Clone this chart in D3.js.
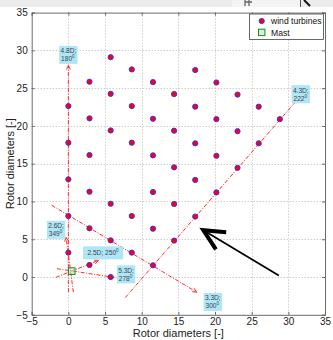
<!DOCTYPE html>
<html>
<head>
<meta charset="utf-8">
<script src="https://cdn.jsdelivr.net/npm/d3@7"></script>
<style>
  html, body { margin: 0; padding: 0; background: #fff; }
  svg { display: block; font-family: "Liberation Sans", Arial, sans-serif; }
</style>
</head>
<body>
<svg id="chart" width="333" height="340"></svg>
<script>
// Wind farm layout in rotor diameters
const turbineX = [
  0, 0, 0, 0, 0,
  2.88, 2.88, 2.88, 2.88, 2.88, 2.88,
  5.77, 5.77, 5.77, 5.77, 5.77, 5.77,
  8.65, 8.65, 8.65, 8.65, 8.65,
  11.54, 11.54, 11.54, 11.54, 11.54, 11.54,
  14.42, 14.42, 14.42, 14.42, 14.42,
  17.3, 17.3, 17.3, 17.3, 17.3,
  20.19, 20.19, 20.19, 20.19,
  23.07, 23.07, 23.07,
  25.96, 25.96,
  28.84
];
const turbineY = [
  3.23, 8.08, 12.93, 17.78, 22.63,
  1.6, 6.45, 11.3, 16.15, 21.0, 25.85,
  0, 4.85, 9.7, 19.4, 24.25, 29.1,
  3.23, 8.08, 17.78, 22.63, 27.48,
  1.55, 6.4, 11.25, 16.1, 20.95, 25.8,
  4.82, 9.67, 14.52, 19.37, 24.22,
  8.0, 12.85, 17.7, 22.55, 27.4,
  11.2, 16.05, 20.9, 25.75,
  14.45, 19.3, 24.15,
  17.7, 22.55,
  20.9
];

// Met mast
const mastX = [0.46];
const mastY = [0.78];

// Axis ticks
const xTicks = [-5, 0, 5, 10, 15, 20, 25, 30, 35];
const yTicks = [-5, 0, 5, 10, 15, 20, 25, 30, 35];

// Sight lines: start and end points (end carries the arrow head)
const lineX1 = [0, 0.68, -1.7, -1.55, -2.27, 7.75];
const lineY1 = [-2.0, -2.0, -0.05, 1.1, 9.5, -2.73];
const lineX2 = [0, -0.31, 4.1, 6.3, 17.5, 30.9];
const lineY2 = [28.0, 5.25, 2.2, -0.05, -2.0, 23.1];
const lineArrow = [true, true, true, false, true, false];

// Annotation labels: spacing and direction
const labelSpacing = ["4.8D;", "2.6D;", "2.5D;", "5.3D;", "3.3D;", "4.3D;"];
const labelAngle = ["180", "349", "250", "278", "300", "222"];
const labelX = [0, -1.68, 4.73, 7.87, 19.7, 31.7];
const labelY = [29.4, 6.25, 3.2, 0.36, -3.3, 24.2];
const labelOneLine = [false, false, true, false, false, false];

// Wind arrow: tail and tip
const windArrowX = [28.7, 18.4];
const windArrowY = [0.2, 6.2];

const legendLabels = ["wind turbines", "Mast"];

const svg = d3.select("#chart");
const W = 333, H = 340;
const plotLeft = 31.7, plotRight = 325, plotTop = 12.6, plotBottom = 314.8;

// window strip at the top
const strip = svg.append("g");
strip.append("rect").attr("x", 0).attr("y", 0).attr("width", W).attr("height", 7).attr("fill", "#ececec");
strip.append("rect").attr("x", 232).attr("y", 0).attr("width", 68).attr("height", 7).attr("fill", "#f4f4f4");
strip.append("line").attr("x1", 300.5).attr("x2", 300.5).attr("y1", 0).attr("y2", 7).attr("stroke", "#555");
strip.append("path").attr("d", "M245,0 V6 M245,2 H252 M249,0 V6").attr("stroke", "#666").attr("stroke-width", 1.3).attr("fill", "none");
strip.append("path").attr("d", "M304,0 L310,6").attr("stroke", "#111").attr("stroke-width", 2).attr("fill", "none");

const x = d3.scaleLinear().domain([-5, 35]).range([plotLeft, plotRight]);
const y = d3.scaleLinear().domain([-5, 35]).range([plotBottom, plotTop]);

// plot background
svg.append("rect").attr("x", plotLeft).attr("y", plotTop).attr("width", plotRight - plotLeft).attr("height", plotBottom - plotTop).attr("fill", "#fff");

// dotted grid
const grid = svg.append("g").attr("stroke", "#b8b8b8").attr("stroke-width", 1).attr("stroke-dasharray", "1,2");
grid.selectAll(".gx").data(xTicks.slice(1, -1)).join("line").attr("class", "gx")
  .attr("x1", d => Math.round(x(d)) + 0.5).attr("x2", d => Math.round(x(d)) + 0.5)
  .attr("y1", plotTop).attr("y2", plotBottom);
grid.selectAll(".gy").data(yTicks.slice(1, -1)).join("line").attr("class", "gy")
  .attr("y1", d => Math.round(y(d)) + 0.5).attr("y2", d => Math.round(y(d)) + 0.5)
  .attr("x1", plotLeft).attr("x2", plotRight);

// axes with inward ticks
const axisColor = "#6a6a6a";
const xAxis = svg.append("g").attr("transform", `translate(0,${plotBottom})`)
  .call(d3.axisBottom(x).tickValues(xTicks).tickSize(-3).tickPadding(3.3));
const yAxis = svg.append("g").attr("transform", `translate(${plotLeft},0)`)
  .call(d3.axisLeft(y).tickValues(yTicks).tickSize(-3).tickPadding(4));
const xTop = svg.append("g").attr("transform", `translate(0,${plotTop})`)
  .call(d3.axisTop(x).tickValues(xTicks).tickSize(-3).tickFormat(""));
const yRight = svg.append("g").attr("transform", `translate(${plotRight},0)`)
  .call(d3.axisRight(y).tickValues(yTicks).tickSize(-3).tickFormat(""));
[xAxis, yAxis, xTop, yRight].forEach(g => {
  g.select(".domain").attr("stroke", axisColor);
  g.selectAll(".tick line").attr("stroke", axisColor);
  g.selectAll("text").attr("fill", "#222").style("font-size", "10px").style("font-family", "Liberation Sans, Arial, sans-serif");
});

// axis titles
svg.append("text").attr("x", (plotLeft + plotRight) / 2).attr("y", 336.5).attr("text-anchor", "middle")
  .attr("font-size", 11).attr("fill", "#222").text("Rotor diameters [-]");
svg.append("text").attr("transform", `translate(14,${(plotTop + plotBottom) / 2}) rotate(-90)`)
  .attr("text-anchor", "middle").attr("font-size", 11).attr("fill", "#222").text("Rotor diameters [-]");

// sight lines
const lineG = svg.append("g").attr("stroke", "#ff2a2a").attr("stroke-width", 1).attr("fill", "none");
lineX1.forEach((_, i) => {
  const x1 = x(lineX1[i]), y1 = y(lineY1[i]), x2 = x(lineX2[i]), y2 = y(lineY2[i]);
  lineG.append("line").attr("x1", x1).attr("y1", y1).attr("x2", x2).attr("y2", y2)
    .attr("stroke-dasharray", "4,1.5,1,1.5");
  if (lineArrow[i]) {
    const a = Math.atan2(y2 - y1, x2 - x1), L = 4.5, s = 0.45;
    lineG.append("path")
      .attr("d", `M${x2 - L * Math.cos(a - s)},${y2 - L * Math.sin(a - s)} L${x2},${y2} L${x2 - L * Math.cos(a + s)},${y2 - L * Math.sin(a + s)}`);
  }
});

// turbines
svg.append("g").selectAll("circle").data(turbineX.map((d, i) => [d, turbineY[i]])).join("circle")
  .attr("cx", d => x(d[0])).attr("cy", d => y(d[1])).attr("r", 2.6)
  .attr("fill", "#ff0000").attr("stroke", "#3333ff").attr("stroke-width", 1);

// mast
svg.append("g").selectAll("rect").data(mastX.map((d, i) => [d, mastY[i]])).join("rect")
  .attr("x", d => x(d[0]) - 3.3).attr("y", d => y(d[1]) - 3.3).attr("width", 6.6).attr("height", 6.6)
  .attr("fill", "#c9dcc9").attr("fill-opacity", 0.6).attr("stroke", "#159015").attr("stroke-width", 1);

// annotation labels
const labG = svg.append("g").attr("font-size", 6.6).attr("fill", "#3c4650");
labelSpacing.forEach((t, i) => {
  const cx = x(labelX[i]), cy = y(labelY[i]);
  const g = labG.append("g");
  if (labelOneLine[i]) {
    g.append("rect").attr("x", cx - 20).attr("y", cy - 6.5).attr("width", 40).attr("height", 13).attr("fill", "#aee6f6");
    const tx = g.append("text").attr("x", cx).attr("y", cy + 2.5).attr("text-anchor", "middle");
    tx.append("tspan").text(t + " " + labelAngle[i]);
    tx.append("tspan").attr("dy", -3).attr("font-size", 4.6).text("0");
  } else {
    g.append("rect").attr("x", cx - 9.2).attr("y", cy - 9).attr("width", 18.4).attr("height", 18).attr("fill", "#aee6f6");
    g.append("text").attr("x", cx).attr("y", cy - 1.5).attr("text-anchor", "middle").text(t);
    const tx = g.append("text").attr("x", cx - 0.5).attr("y", cy + 6.5).attr("text-anchor", "middle");
    tx.append("tspan").text(labelAngle[i]);
    tx.append("tspan").attr("dy", -3).attr("font-size", 4.6).text("0");
  }
});

// wind direction arrow
{
  const tx = x(windArrowX[0]), ty = y(windArrowY[0]), hx = x(windArrowX[1]), hy = y(windArrowY[1]);
  const a = Math.atan2(hy - ty, hx - tx), L = 23, s = 0.45;
  svg.append("line").attr("x1", tx).attr("y1", ty).attr("x2", hx + 3 * Math.cos(a + Math.PI)).attr("y2", hy + 3 * Math.sin(a + Math.PI))
    .attr("stroke", "#000").attr("stroke-width", 1.8);
  svg.append("path")
    .attr("d", `M${hx - L * Math.cos(a - s)},${hy - L * Math.sin(a - s)} L${hx},${hy} L${hx - L * Math.cos(a + s)},${hy - L * Math.sin(a + s)}`)
    .attr("fill", "none").attr("stroke", "#000").attr("stroke-width", 4).attr("stroke-linejoin", "miter");
}

// legend
const lg = svg.append("g").attr("transform", "translate(249.5,14)");
lg.append("rect").attr("width", 74).attr("height", 25.5).attr("fill", "#fff").attr("stroke", "#444").attr("stroke-width", 0.8);
lg.append("circle").attr("cx", 12.2).attr("cy", 7).attr("r", 2.6).attr("fill", "#ff0000").attr("stroke", "#3333ff");
lg.append("rect").attr("x", 9).attr("y", 15.2).attr("width", 6.4).attr("height", 6.4).attr("fill", "#dde9dd").attr("stroke", "#159015");
lg.selectAll("text").data(legendLabels).join("text")
  .attr("x", 21.5).attr("y", (d, i) => 10.3 + i * 11.2).attr("font-size", 8.6).attr("fill", "#111").text(d => d);
</script>
</body>
</html>
